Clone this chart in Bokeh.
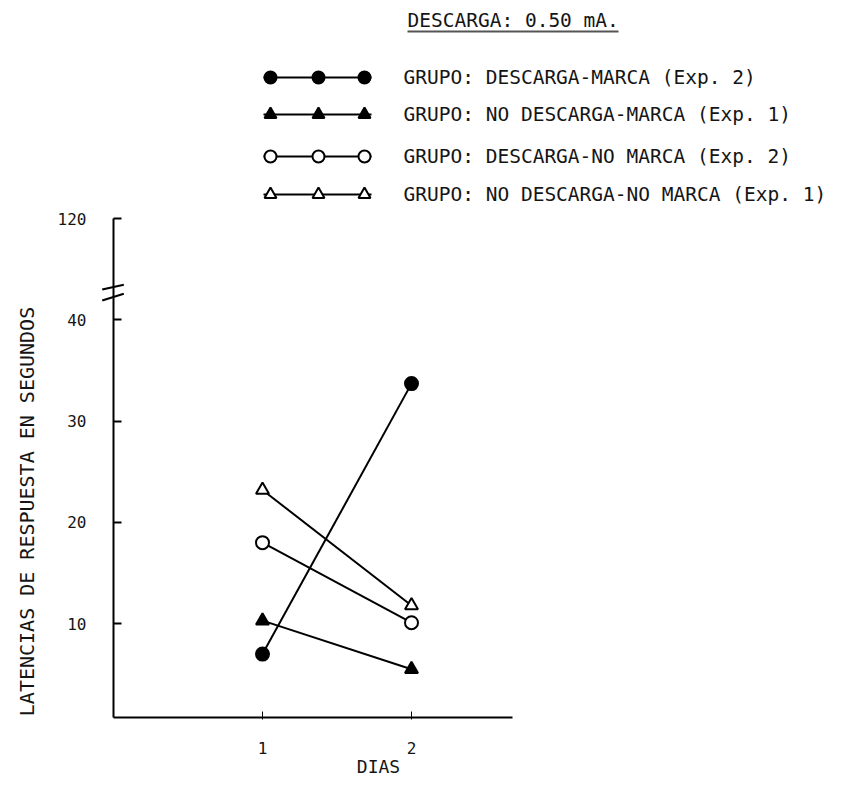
import math
from bokeh.plotting import figure
from bokeh.models import Range1d, FixedTicker
from bokeh.embed import file_html
from bokeh.resources import INLINE
from bokeh.core.properties import value

# ---- data ----
dias = [1, 2]
descarga_marca = [7.0, 33.7]          # filled circle
no_descarga_marca = [10.3, 5.5]       # filled triangle
descarga_no_marca = [18.0, 10.1]      # open circle
no_descarga_no_marca = [23.2, 11.8]   # open triangle

legend_labels = [
    "GRUPO: DESCARGA-MARCA (Exp. 2)",
    "GRUPO: NO DESCARGA-MARCA (Exp. 1)",
    "GRUPO: DESCARGA-NO MARCA (Exp. 2)",
    "GRUPO: NO DESCARGA-NO MARCA (Exp. 1)",
]
y_ticks = [10, 20, 30, 40]
x_ticks = [1, 2]
top_tick = 50
top_tick_label = "120"
title_text = "DESCARGA: 0.50 mA."
x_label = "DIAS"
y_label = "LATENCIAS DE RESPUESTA EN SEGUNDOS"

FONT = "DejaVu Sans Mono"
INK = "#151515"
W, H = 828, 782

# layout helpers: canvas pixel -> data coordinate (for placing annotations only)
X0, XS = 113.0, 149.0      # pixel of x=0, pixels per day
Y0, YS = 724.5, 10.13      # pixel of y=0, pixels per second
def px_x(px):
    return (px - X0) / XS
def px_y(py):
    return (Y0 - py) / YS

p = figure(width=W, height=H,
           x_range=Range1d(px_x(0), px_x(W)), y_range=Range1d(px_y(H), px_y(0)),
           output_backend="svg", toolbar_location=None,
           min_border_left=0, min_border_right=0, min_border_top=0, min_border_bottom=0)
p.outline_line_color = None
p.xgrid.visible = False
p.ygrid.visible = False
p.background_fill_color = "white"
p.border_fill_color = "white"

x_axis_at = px_y(717)

# y axis (fixed at x = 0)
p.yaxis.fixed_location = 0
p.yaxis.ticker = FixedTicker(ticks=y_ticks + [top_tick])
p.yaxis.major_label_overrides = {top_tick: top_tick_label}
p.yaxis.bounds = (x_axis_at, top_tick)
p.yaxis.major_tick_in = 8
p.yaxis.major_tick_out = 0
p.yaxis.minor_tick_line_color = None
p.yaxis.axis_line_width = 2
p.yaxis.axis_line_color = "black"
p.yaxis.major_tick_line_width = 2
p.yaxis.major_label_standoff = 27
p.yaxis.major_label_text_font = FONT
p.yaxis.major_label_text_font_size = "16px"
p.yaxis.major_label_text_color = INK

# x axis (fixed at the baseline)
p.xaxis.fixed_location = x_axis_at
p.xaxis.ticker = FixedTicker(ticks=x_ticks)
p.xaxis.bounds = (0, px_x(512))
p.xaxis.major_tick_in = 6
p.xaxis.major_tick_out = 2
p.xaxis.minor_tick_line_color = None
p.xaxis.axis_line_width = 2
p.xaxis.axis_line_color = "black"
p.xaxis.major_tick_line_width = 1
p.xaxis.major_label_standoff = 22
p.xaxis.major_label_text_font = FONT
p.xaxis.major_label_text_font_size = "16px"
p.xaxis.major_label_text_color = INK

series = [
    (descarga_marca, "circle", "black"),
    (no_descarga_marca, "triangle", "black"),
    (descarga_no_marca, "circle", "white"),
    (no_descarga_no_marca, "triangle", "white"),
]
for ys, mk, fill in series:
    p.line(dias, ys, line_width=2, line_color="black")
    p.scatter(dias, ys, marker=mk, size=13,
              fill_color=fill, line_color="black", line_width=2)

# legend (three markers on a line per group)
row_py = [77, 114, 156, 194]
mk_px = [270, 318, 364]
for (ys, mk, fill), ry, lab in zip(series, row_py, legend_labels):
    y = px_y(ry)
    p.line([px_x(263), px_x(371)], [y, y], line_width=2, line_color="black")
    p.scatter([px_x(v) for v in mk_px], [y] * 3, marker=mk, size=12,
              fill_color=fill, line_color="black", line_width=2)
    p.text([px_x(403)], [y], text=[lab], text_font=value(FONT), text_font_size="19.5px",
           text_baseline="middle", text_align="left", text_color=INK)

# title with underline
p.text([px_x(407)], [px_y(20)], text=[title_text], text_font=value(FONT), text_font_size="19.5px",
       text_baseline="middle", text_align="left", text_color=INK)
p.line([px_x(407), px_x(618)], [px_y(31), px_y(31)], line_width=2, line_color="#555555")

# axis break on the y axis
p.line([0, 0], [px_y(288.5), px_y(296.5)], line_color="white", line_width=6)
p.line([px_x(101.7), px_x(123.3)], [px_y(289), px_y(284.3)], line_color="black", line_width=2)
p.line([px_x(101.7), px_x(123.3)], [px_y(300), px_y(293.3)], line_color="black", line_width=2)

# axis titles
p.text([px_x(26)], [px_y(511)], text=[y_label], angle=math.pi / 2,
       text_font=value(FONT), text_font_size="20px", text_align="center",
       text_baseline="middle", text_color=INK)
p.text([px_x(378)], [px_y(766)], text=[x_label], text_font=value(FONT), text_font_size="18px",
       text_align="center", text_baseline="middle", text_color=INK)

open("out.html", "w").write(file_html(p, INLINE))
